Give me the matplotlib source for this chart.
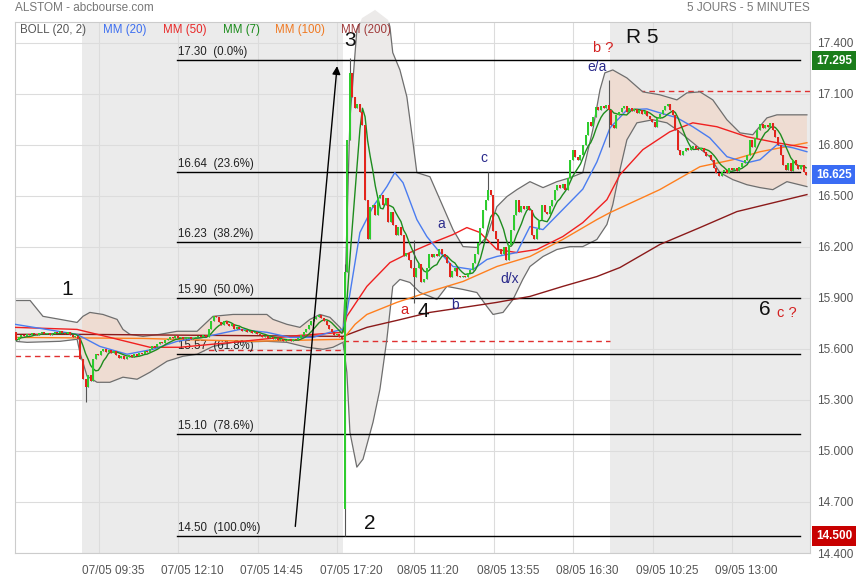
import numpy as np
import pandas as pd
import matplotlib
matplotlib.use('Agg')
import matplotlib.pyplot as plt
from matplotlib.patches import Rectangle, Polygon
import matplotlib.transforms as mtransforms

plt.rcParams['font.family'] = ['Liberation Sans', 'DejaVu Sans']

# ---- data: 5-minute closes, one list per session ----
close_0605 = [15.651, 15.668, 15.680, 15.674, 15.686, 15.680, 15.692, 15.686, 15.680, 15.692,
              15.698, 15.686, 15.692, 15.680, 15.686, 15.698, 15.692, 15.704, 15.692, 15.686,
              15.698, 15.680, 15.668, 15.674, 15.657, 15.539]
close_0705 = [15.422, 15.375, 15.445, 15.410, 15.539, 15.569, 15.563, 15.586, 15.598, 15.580,
              15.592, 15.575, 15.586, 15.563, 15.545, 15.557, 15.539, 15.551, 15.563, 15.551,
              15.569, 15.557, 15.575, 15.569, 15.586, 15.580, 15.598, 15.615, 15.610, 15.627,
              15.639, 15.633, 15.651, 15.657, 15.668, 15.663, 15.674, 15.663, 15.668, 15.657,
              15.663, 15.668, 15.657, 15.663, 15.668, 15.674, 15.668, 15.680, 15.668, 15.715,
              15.762, 15.792, 15.786, 15.756, 15.739, 15.762, 15.745, 15.733, 15.745, 15.715,
              15.727, 15.715, 15.704, 15.710, 15.698, 15.704, 15.692, 15.698, 15.686, 15.680,
              15.668, 15.674, 15.663, 15.668, 15.657, 15.663, 15.651, 15.657, 15.645, 15.651,
              15.657, 15.645, 15.657, 15.651, 15.663, 15.680, 15.698, 15.715, 15.739, 15.762,
              15.774, 15.786, 15.797, 15.780, 15.762, 15.739, 15.715, 15.698, 15.680, 15.686,
              15.668, 15.657]
close_0805 = [16.050, 16.830, 17.224, 17.083, 17.018, 17.042, 16.995, 16.918, 16.478, 16.244,
              16.437, 16.449, 16.390, 16.490, 16.508, 16.449, 16.490, 16.349, 16.408, 16.332,
              16.273, 16.320, 16.273, 16.144, 16.167, 16.126, 16.079, 16.026, 16.079, 16.097,
              15.991, 16.009, 16.079, 16.156, 16.138, 16.156, 16.144, 16.185, 16.156, 16.138,
              16.108, 16.021, 16.056, 16.079, 16.032, 16.021, 16.032, 16.026, 16.044, 16.067,
              16.108, 16.156, 16.226, 16.314, 16.420, 16.478, 16.537, 16.508, 16.291, 16.244,
              16.185, 16.161, 16.202, 16.126, 16.214, 16.302, 16.390, 16.478, 16.408, 16.443,
              16.425, 16.443, 16.420, 16.273, 16.244, 16.308, 16.361, 16.449, 16.408, 16.396,
              16.443, 16.478, 16.537, 16.566, 16.549, 16.572, 16.537, 16.607, 16.713, 16.772,
              16.731, 16.713, 16.742, 16.801, 16.860, 16.936, 16.913, 16.965, 17.024, 17.006,
              17.030, 17.018, 17.036, 17.006]
close_0905 = [16.918, 16.901, 16.977, 16.995, 17.018, 17.030, 16.995, 17.018, 17.001, 17.012,
              16.989, 17.006, 16.983, 17.001, 16.971, 16.954, 16.936, 16.907, 16.960, 16.983,
              17.006, 17.030, 17.042, 17.006, 16.977, 16.889, 16.772, 16.742, 16.766, 16.783,
              16.772, 16.783, 16.795, 16.778, 16.772, 16.783, 16.760, 16.737, 16.742, 16.713,
              16.666, 16.637, 16.619, 16.643, 16.654, 16.637, 16.666, 16.654, 16.666, 16.649,
              16.672, 16.695, 16.713, 16.742, 16.830, 16.789, 16.842, 16.889, 16.924, 16.901,
              16.918, 16.907, 16.930, 16.889, 16.848, 16.801, 16.742, 16.684, 16.654, 16.695,
              16.649, 16.713, 16.684, 16.660, 16.684, 16.643, 16.625]

first_open = 15.698
open_fix = {128: 14.66}
high_fix = {128: 16.10, 130: 17.31, 155: 16.24, 184: 16.64, 231: 17.18}
low_fix = {27: 15.29, 128: 14.50, 155: 15.87, 231: 16.79}

# moving averages and Bollinger band (bar index, price)
mm20_x = [-0.5, 23.7, 32.6, 43.2, 53.3, 62.7, 74.4, 87.2, 97.7, 106.7, 115.7, 122.3, 127.4, 128.9,
          134.0, 139.1, 144.5, 147.6, 150.8, 156.2, 160.1, 165.2, 170.3, 178.1, 183.5, 187.4,
          195.2, 200.3, 205.4, 213.1, 220.9, 226.4, 231.5, 238.1, 245.9, 250.9, 257.6, 263.8,
          270.4, 277.1, 284.9, 290.0, 296.6, 302.9, 308.3]
mm20_y = [15.745, 15.686, 15.615, 15.569, 15.598, 15.645, 15.674, 15.715, 15.698, 15.668, 15.668,
          15.698, 15.715, 15.815, 16.285, 16.437, 16.555, 16.637, 16.578, 16.361, 16.261, 16.167,
          16.085, 16.067, 16.126, 16.144, 16.167, 16.320, 16.302, 16.420, 16.540, 16.700, 16.900,
          17.006, 17.012, 16.989, 16.960, 16.907, 16.842, 16.731, 16.695, 16.713, 16.801, 16.783,
          16.760]
mm50_x = [-0.5, 23.7, 36.5, 52.1, 63.8, 84.5, 110.6, 127.4, 128.9, 136.7, 145.7, 153.5, 162.5,
          170.3, 175.7, 180.8, 187.4, 195.2, 203.0, 213.1, 220.9, 230.3, 235.4, 244.3, 254.8,
          263.8, 273.2, 284.9, 296.6, 308.3]
mm50_y = [15.727, 15.715, 15.668, 15.610, 15.610, 15.639, 15.680, 15.698, 15.792, 15.968, 16.108,
          16.167, 16.226, 16.273, 16.314, 16.285, 16.185, 16.167, 16.185, 16.261, 16.343, 16.478,
          16.625, 16.772, 16.877, 16.930, 16.907, 16.848, 16.813, 16.783]
mm100_x = [-0.5, 49.4, 91.1, 127.4, 132.1, 136.7, 148.4, 161.3, 174.2, 187.4, 200.3, 213.1,
           226.4, 231.5, 250.9, 266.6, 279.4, 290.0, 308.3]
mm100_y = [15.668, 15.662, 15.645, 15.657, 15.745, 15.803, 15.874, 15.938, 15.997, 16.085, 16.144,
           16.244, 16.361, 16.402, 16.537, 16.672, 16.713, 16.760, 16.813]
mm200_x = [-0.5, 23.7, 127.4, 136.7, 148.4, 161.3, 174.2, 187.4, 200.3, 213.1, 226.4, 235.4,
           250.9, 266.6, 281.0, 308.3]
mm200_y = [15.686, 15.686, 15.674, 15.727, 15.768, 15.815, 15.844, 15.874, 15.909, 15.968, 16.026,
           16.079, 16.214, 16.314, 16.408, 16.508]
boll_up_x = [-0.5, 5.4, 10.4, 17.1, 23.7, 26.0, 28.7, 33.8, 39.3, 41.6, 44.3, 49.4, 56.0, 62.7,
             70.5, 76.7, 84.5, 97.7, 100.1, 105.5, 110.6, 114.5, 118.4, 122.3, 126.2, 127.4, 128.2,
             130.1, 132.8, 134.8, 139.9, 145.0, 145.7, 146.8, 149.6, 152.3, 154.7, 156.2, 161.3,
             166.4, 170.3, 174.2, 179.6, 183.5, 187.4, 191.3, 195.2, 200.3, 205.4, 210.8, 215.9,
             220.9, 224.8, 227.6, 229.5, 232.6, 238.1, 244.3, 250.9, 257.6, 261.5, 266.6, 271.6,
             277.1, 282.2, 287.2, 292.7, 296.6, 308.3]
boll_up_y = [15.885, 15.885, 15.792, 15.774, 15.756, 15.792, 15.815, 15.803, 15.774, 15.715, 15.686,
             15.674, 15.686, 15.704, 15.704, 15.792, 15.803, 15.803, 15.774, 15.745, 15.727, 15.774,
             15.803, 15.786, 15.727, 15.704, 15.944, 16.950, 17.476, 17.546, 17.594, 17.535, 17.494,
             17.343, 17.241, 17.083, 16.813, 16.637, 16.613, 16.437, 16.302, 16.202, 16.197, 16.261,
             16.437, 16.496, 16.537, 16.584, 16.549, 16.584, 16.607, 16.637, 16.889, 17.124, 17.224,
             17.241, 17.194, 17.112, 17.095, 17.065, 17.106, 17.112, 17.065, 16.948, 16.871, 16.860,
             16.959, 16.977, 16.977]
boll_lo_x = [-0.5, 4.2, 17.1, 23.7, 24.8, 27.6, 31.5, 36.5, 41.6, 47.1, 52.1, 58.8, 65.0, 70.5,
             76.7, 84.5, 97.7, 105.5, 113.3, 119.6, 123.5, 127.4, 128.9, 130.1, 132.8, 135.2, 139.1,
             141.8, 144.5, 146.8, 149.6, 153.5, 157.4, 161.3, 164.0, 167.9, 174.2, 179.6, 183.5,
             185.9, 189.8, 193.7, 197.5, 200.3, 205.4, 210.8, 215.9, 220.9, 226.4, 230.3, 232.6,
             235.4, 238.1, 242.0, 248.2, 253.7, 257.6, 263.8, 270.4, 274.4, 279.4, 284.9, 290.0,
             295.0, 300.5, 308.3]
boll_lo_y = [15.645, 15.639, 15.645, 15.657, 15.580, 15.440, 15.404, 15.404, 15.434, 15.422, 15.463,
             15.528, 15.557, 15.569, 15.615, 15.639, 15.645, 15.639, 15.610, 15.598, 15.610, 15.639,
             15.463, 15.110, 14.905, 14.952, 15.169, 15.363, 15.657, 15.968, 16.009, 15.991, 15.932,
             15.909, 15.891, 15.968, 15.950, 15.932, 15.850, 15.803, 15.815, 15.891, 16.009, 16.085,
             16.144, 16.185, 16.202, 16.202, 16.244, 16.332, 16.449, 16.654, 16.830, 16.930, 16.948,
             16.930, 16.889, 16.813, 16.731, 16.637, 16.596, 16.566, 16.549, 16.537, 16.584, 16.555]

# previous-close reference per session
ref_levels = [15.557, 15.592, 15.645, 17.118]
day_edges = [-0.5, 25.5, 127.5, 231.5, 309.5]
gray_days = [1, 3]

fib_levels = [17.30, 16.64, 16.23, 15.90, 15.57, 15.10, 14.50]
fib_pcts = ['0.0', '23.6', '38.2', '50.0', '61.8', '78.6', '100.0']

tick_bars = [33, 64, 95, 126, 156, 187, 218, 249, 280]
tick_labels = ['07/05 09:35', '07/05 12:10', '07/05 14:45', '07/05 17:20', '08/05 11:20',
               '08/05 13:55', '08/05 16:30', '09/05 10:25', '09/05 13:00']
y_ticks = [14.4, 14.7, 15.0, 15.3, 15.6, 15.9, 16.2, 16.5, 16.8, 17.1, 17.4]

# ---- build OHLC ----
close = np.array(close_0605 + close_0705 + close_0805 + close_0905)
n = len(close)
x = np.arange(n)
opens = np.r_[first_open, close[:-1]]
for k, v in open_fix.items():
    opens[k] = v
hi = np.maximum(opens, close)
lo = np.minimum(opens, close)
for k, v in high_fix.items():
    hi[k] = v
for k, v in low_fix.items():
    lo[k] = v
mm7 = pd.Series(close).rolling(7, min_periods=1).mean().values

# ---- plot ----
fig = plt.figure(figsize=(8.6, 5.8), dpi=100)
ax = fig.add_axes([15/860, 27/580, 795/860, 531/580])
ax.set_xlim(-0.5, 309.5)
ax.set_ylim(14.407, 17.523)

for d in gray_days:
    ax.axvspan(day_edges[d], day_edges[d+1], color='#ebebeb', zorder=0, lw=0)

ax.set_yticks(y_ticks)
ax.set_yticklabels([f'{v:.3f}' for v in y_ticks])
ax.set_xticks(np.array(tick_bars) - 0.8)
ax.set_xticklabels(tick_labels)
ax.grid(True, color='#dcdcdc', lw=0.8, zorder=0.5)
ax.set_axisbelow(True)
ax.yaxis.tick_right()
ax.tick_params(axis='y', length=0, pad=5, labelsize=8.5, labelcolor='#555555')
ax.tick_params(axis='x', length=0, pad=9, labelsize=8.5, labelcolor='#555555')
off = mtransforms.ScaledTranslation(14/100, 0, fig.dpi_scale_trans)
for lab in ax.get_xticklabels():
    lab.set_transform(lab.get_transform() + off)
for s in ax.spines.values():
    s.set_color('#cccccc')

# dashed reference lines (the 08/05 one shows through the band)
for d in range(4):
    ax.plot([day_edges[d], day_edges[d+1]], [ref_levels[d]] * 2, ls=(0, (4, 3)),
            color='#e03030', lw=1, zorder=1.7 if d == 2 else 1)

# Bollinger band
verts = list(zip(boll_up_x, boll_up_y)) + list(zip(boll_lo_x[::-1], boll_lo_y[::-1]))
ax.add_patch(Polygon(verts, closed=True, fc='#eedcd2', ec='none', zorder=1.5))
for d in [0, 2]:
    p = Polygon(verts, closed=True, fc='#eceae9', ec='none', zorder=1.6)
    ax.add_patch(p)
    p.set_clip_path(Rectangle((day_edges[d], 14), day_edges[d+1] - day_edges[d], 4,
                              transform=ax.transData))
ax.plot(boll_up_x, boll_up_y, color='#6e6e6e', lw=0.9, zorder=2)
ax.plot(boll_lo_x, boll_lo_y, color='#6e6e6e', lw=0.9, zorder=2)

# Fibonacci retracements
for lv, pc in zip(fib_levels, fib_pcts):
    ax.plot([62.8, 305.5], [lv, lv], color='black', lw=1, zorder=2.5)
    ax.annotate(f'{lv:.2f}  ({pc}%)', (63.2, lv), xytext=(0, 1.5), textcoords='offset points',
                fontsize=8.3, color='#222222', va='bottom', zorder=2.6)

# moving averages
ax.plot(mm200_x, mm200_y, color='#8b1a1a', lw=1, zorder=3)
ax.plot(mm100_x, mm100_y, color='#ff7f1e', lw=1, zorder=3)
ax.plot(mm50_x, mm50_y, color='#f02020', lw=1, zorder=3)
ax.plot(mm20_x, mm20_y, color='#4a7cf0', lw=1, zorder=3)
ax.plot(x, mm7, color='#1e8c1e', lw=1, zorder=3.1)

# candles
up = close >= opens
ax.vlines(x, lo, hi, color='#555555', lw=0.8, zorder=3.8)
body_lo = np.minimum(opens, close)
body_h = np.maximum(np.abs(close - opens), 0.004)
ax.bar(x, body_h, bottom=body_lo, width=0.78, color=np.where(up, '#2ecc2e', '#e3241c'),
       lw=0, zorder=4)

# wave counts
ax.annotate('', xy=(125.2, 17.28), xytext=(108.7, 14.54),
            arrowprops=dict(arrowstyle='-|>', color='black', lw=1, mutation_scale=12), zorder=5)
for t, xx, yy in [('1', 19.8, 15.95), ('2', 137.9, 14.571), ('3', 130.1, 17.417), ('4', 158.6, 15.821),
                  ('R 5', 244.0, 17.429), ('6', 291.9, 15.833)]:
    ax.text(xx, yy, t, fontsize=15, color='#111111', ha='center', va='center', zorder=5)
for t, xx, yy in [('a', 151.2, 15.827), ('b ?', 228.7, 17.37), ('c ?', 300.5, 15.809)]:
    ax.text(xx, yy, t, fontsize=10.5, color='#d42020', ha='center', va='center', zorder=5)
for t, xx, yy in [('a', 165.6, 16.337), ('b', 171.0, 15.856), ('c', 182.4, 16.725),
                  ('d/x', 192.5, 16.009), ('e/a', 226.4, 17.259)]:
    ax.text(xx, yy, t, fontsize=10, color='#2b2b8c', ha='center', va='center', zorder=5)

# price boxes on the right axis
tr = mtransforms.blended_transform_factory(ax.transAxes, ax.transData)
for val, col in [(17.295, '#1b7d1b'), (close[-1], '#3a6cf4'), (14.500, '#c80000')]:
    ax.text(1.0 + 6/795, val, f'{val:.3f}', transform=tr, fontsize=8.5, color='white',
            fontweight='bold', va='center', ha='left', zorder=6, clip_on=False,
            bbox=dict(boxstyle='square,pad=0.3', fc=col, ec='none'))

# header and legend row
fig.text(15/860, 1 - 8/580, 'ALSTOM - abcbourse.com', fontsize=8.5, color='#777777', va='center')
fig.text(810/860, 1 - 8/580, '5 JOURS - 5 MINUTES', fontsize=8.5, color='#777777', va='center', ha='right')
for t, px, col in [('BOLL (20, 2)', 20, '#555555'), ('MM (20)', 103, '#3c6ef0'),
                   ('MM (50)', 163, '#e82828'), ('MM (7)', 223, '#1a8a1a'),
                   ('MM (100)', 275, '#f07820'), ('MM (200)', 341, '#a03a3a')]:
    fig.text(px/860, 1 - 30/580, t, fontsize=8.3, color=col, va='center', zorder=7)

fig.savefig('out.png', dpi=100)
